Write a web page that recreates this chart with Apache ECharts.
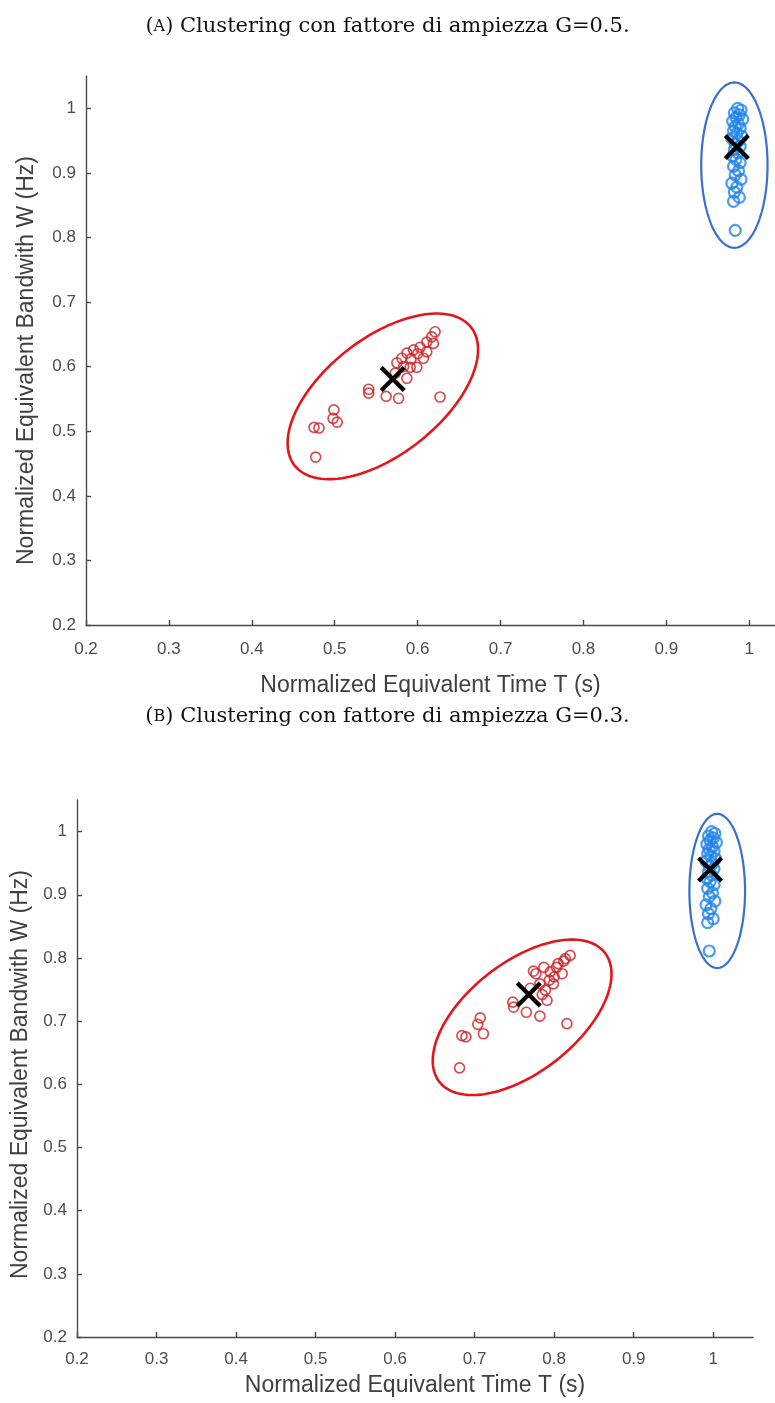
<!DOCTYPE html>
<html>
<head>
<meta charset="utf-8">
<script src="https://cdn.jsdelivr.net/npm/echarts@6/dist/echarts.min.js"></script>
<style>
  html, body { margin: 0; padding: 0; background: #ffffff; }
  #chart { width: 775px; height: 1403px; }
</style>
</head>
<body>
<div id="chart"></div>
<script>
// ---- Panel (A): G = 0.5 ----
const redT_A = [0.477, 0.475, 0.481, 0.499, 0.498, 0.503, 0.541, 0.541, 0.562, 0.577, 0.627,
                0.573, 0.575, 0.581, 0.587, 0.591, 0.587, 0.599, 0.595, 0.603, 0.611, 0.611,
                0.617, 0.621, 0.619, 0.607, 0.583, 0.592, 0.600];
const redW_A = [0.460, 0.506, 0.505, 0.533, 0.520, 0.514, 0.565, 0.559, 0.554, 0.551, 0.553,
                0.590, 0.606, 0.613, 0.621, 0.599, 0.582, 0.599, 0.626, 0.630, 0.623, 0.638,
                0.646, 0.654, 0.636, 0.613, 0.600, 0.612, 0.620];
const blueT_A = [0.986, 0.990, 0.982, 0.988, 0.984, 0.992, 0.980, 0.987, 0.983, 0.989, 0.981,
                 0.985, 0.991, 0.979, 0.987, 0.983, 0.989, 0.982, 0.986, 0.980, 0.984, 0.989,
                 0.981, 0.987, 0.983, 0.990, 0.979, 0.985, 0.982, 0.988, 0.981, 0.983];
const blueW_A = [1.000, 0.997, 0.993, 0.990, 0.986, 0.983, 0.980, 0.976, 0.972, 0.969, 0.965,
                 0.961, 0.957, 0.953, 0.949, 0.945, 0.941, 0.936, 0.931, 0.926, 0.921, 0.916,
                 0.910, 0.903, 0.897, 0.890, 0.884, 0.878, 0.870, 0.862, 0.856, 0.811];
const centroids_A = [[0.570, 0.581], [0.985, 0.940]];
// ellipses: centre, end of major semi-axis, end of minor semi-axis
const ellipseRed_A = [0.558, 0.554, 0.6645, 0.6608, 0.601, 0.483];
const ellipseBlue_A = [0.982, 0.912, 0.982, 1.040, 1.022, 0.912];

// ---- Panel (B): G = 0.3 ----
const redT_B = [0.681, 0.684, 0.689, 0.707, 0.704, 0.711, 0.748, 0.749, 0.765, 0.782, 0.816,
                0.777, 0.787, 0.795, 0.782, 0.789, 0.799, 0.810, 0.805, 0.814, 0.820, 0.800,
                0.791, 0.785, 0.774, 0.794, 0.803, 0.812, 0.770];
const redW_B = [0.626, 0.677, 0.675, 0.705, 0.695, 0.680, 0.730, 0.722, 0.714, 0.708, 0.696,
                0.775, 0.785, 0.778, 0.759, 0.749, 0.759, 0.775, 0.791, 0.799, 0.804, 0.770,
                0.733, 0.742, 0.779, 0.765, 0.785, 0.795, 0.752];
const blueT_B = [0.998, 1.002, 0.994, 1.000, 0.996, 1.004, 0.992, 0.999, 0.995, 1.001, 0.993,
                 0.997, 1.003, 0.991, 0.999, 0.995, 1.001, 0.994, 0.998, 0.992, 0.996, 1.001,
                 0.993, 0.999, 0.995, 1.002, 0.991, 0.997, 0.994, 1.000, 0.993, 0.995];
const blueW_B = [1.000, 0.997, 0.993, 0.990, 0.986, 0.983, 0.980, 0.976, 0.972, 0.969, 0.965,
                 0.961, 0.957, 0.953, 0.949, 0.945, 0.941, 0.936, 0.931, 0.926, 0.921, 0.916,
                 0.910, 0.903, 0.897, 0.890, 0.884, 0.878, 0.870, 0.862, 0.856, 0.811];
const centroids_B = [[0.768, 0.742], [0.996, 0.940]];
const ellipseRed_B = [0.7597, 0.706, 0.8637, 0.8082, 0.8023, 0.6375];
const ellipseBlue_B = [1.005, 0.906, 1.005, 1.028, 1.040, 0.906];

// ---- Axes ----
const tickValues = [0.2, 0.3, 0.4, 0.5, 0.6, 0.7, 0.8, 0.9, 1.0];
const axisMin = 0.2, axisMax = 1.05;
const axisMaxT_A = 1.031;   // panel (A) time axis runs off the right edge

const titleA = 'Clustering con fattore di ampiezza G=0.5.';
const titleB = 'Clustering con fattore di ampiezza G=0.3.';
const xName = 'Normalized Equivalent Time T (s)';
const yName = 'Normalized Equivalent Bandwith W (Hz)';

const RED = '#cc1f22', RED_RING = '#e4161b';
const BLUE = '#1f84e8', BLUE_RING = '#3b6fce';
const AXIS = '#4a4a4a';
const SANS = '"Liberation Sans", Arial, sans-serif';
const SERIF = '"DejaVu Serif", serif';

const zip = (a, b) => a.map((v, i) => [v, b[i]]);
const fmt = v => String(+(+v).toFixed(2));

function makeAxis(kind, gridIndex, max, nameGap, labelMargin, namePad) {
  return {
    type: 'value', gridIndex, min: axisMin, max, interval: 0.1,
    name: kind === 'x' ? xName : yName,
    nameLocation: 'middle', nameGap,
    nameTextStyle: { fontFamily: SANS, fontSize: 23, color: '#404040', padding: namePad },
    axisLine: { show: true, onZero: false, lineStyle: { color: AXIS, width: 1.4 } },
    axisTick: { show: true, inside: true, length: 5, customValues: tickValues,
                lineStyle: { color: AXIS, width: 1.4 } },
    axisLabel: { show: true, customValues: tickValues, formatter: fmt,
                 fontFamily: SANS, fontSize: 17, color: '#4d4d4d', margin: labelMargin },
    splitLine: { show: false }
  };
}

function ellipseSeries(vals, color, width, gi) {
  return {
    type: 'custom', xAxisIndex: gi, yAxisIndex: gi, silent: true, clip: false, z: 3,
    data: [vals],
    encode: { x: [0, 2, 4], y: [1, 3, 5] },
    renderItem(params, api) {
      const c = api.coord([api.value(0), api.value(1)]);
      const m = api.coord([api.value(2), api.value(3)]);
      const n = api.coord([api.value(4), api.value(5)]);
      const pts = [];
      for (let k = 0; k <= 144; k++) {
        const t = k / 144 * 2 * Math.PI;
        pts.push([c[0] + Math.cos(t) * (m[0] - c[0]) + Math.sin(t) * (n[0] - c[0]),
                  c[1] + Math.cos(t) * (m[1] - c[1]) + Math.sin(t) * (n[1] - c[1])]);
      }
      return { type: 'polyline', shape: { points: pts },
               style: { stroke: color, lineWidth: width, fill: null } };
    }
  };
}

function pointSeries(data, color, size, border, gi) {
  return {
    type: 'scatter', xAxisIndex: gi, yAxisIndex: gi, silent: true, z: 4,
    symbol: 'circle', symbolSize: size,
    itemStyle: { color: 'rgba(0,0,0,0)', borderColor: color, borderWidth: border },
    data
  };
}

function crossSeries(data, gi) {
  return {
    type: 'custom', xAxisIndex: gi, yAxisIndex: gi, silent: true, z: 6,
    data,
    renderItem(params, api) {
      const p = api.coord([api.value(0), api.value(1)]);
      const h = 11.5;
      const st = { stroke: '#000', lineWidth: 4.3 };
      return { type: 'group', children: [
        { type: 'line', shape: { x1: p[0] - h, y1: p[1] - h, x2: p[0] + h, y2: p[1] + h }, style: st },
        { type: 'line', shape: { x1: p[0] - h, y1: p[1] + h, x2: p[0] + h, y2: p[1] - h }, style: st }
      ]};
    }
  };
}

function caption(letter, text, top) {
  return {
    type: 'text', left: 'center', top,
    style: {
      text: '({sc|' + letter + '}) ' + text,
      fontFamily: SERIF, fontSize: 21, fill: '#111',
      rich: { sc: { fontFamily: SERIF, fontSize: 16, fill: '#111' } }
    }
  };
}

const chart = echarts.init(document.getElementById('chart'), null, { renderer: 'canvas' });
chart.setOption({
  backgroundColor: '#ffffff',
  animation: false,
  graphic: [caption('A', titleA, 16), caption('B', titleB, 706)],
  grid: [
    { left: 86, top: 76, right: 0, height: 549 },
    { left: 77, top: 800, width: 676, height: 537 }
  ],
  xAxis: [makeAxis('x', 0, axisMaxT_A, 49, 16, 0), makeAxis('x', 1, axisMax, 37, 14, 0)],
  yAxis: [makeAxis('y', 0, axisMax, 48, 10, [0, 20, 0, 0]),
          makeAxis('y', 1, axisMax, 44, 10, [0, 12, 0, 0])],
  series: [
    ellipseSeries(ellipseRed_A, RED_RING, 2.6, 0),
    ellipseSeries(ellipseBlue_A, BLUE_RING, 2.2, 0),
    pointSeries(zip(redT_A, redW_A), RED, 10, 1.7, 0),
    pointSeries(zip(blueT_A, blueW_A), BLUE, 11, 2.2, 0),
    crossSeries(centroids_A, 0),

    ellipseSeries(ellipseRed_B, RED_RING, 2.6, 1),
    ellipseSeries(ellipseBlue_B, BLUE_RING, 2.2, 1),
    pointSeries(zip(redT_B, redW_B), RED, 10, 1.7, 1),
    pointSeries(zip(blueT_B, blueW_B), BLUE, 11, 2.2, 1),
    crossSeries(centroids_B, 1)
  ]
});
</script>
</body>
</html>
